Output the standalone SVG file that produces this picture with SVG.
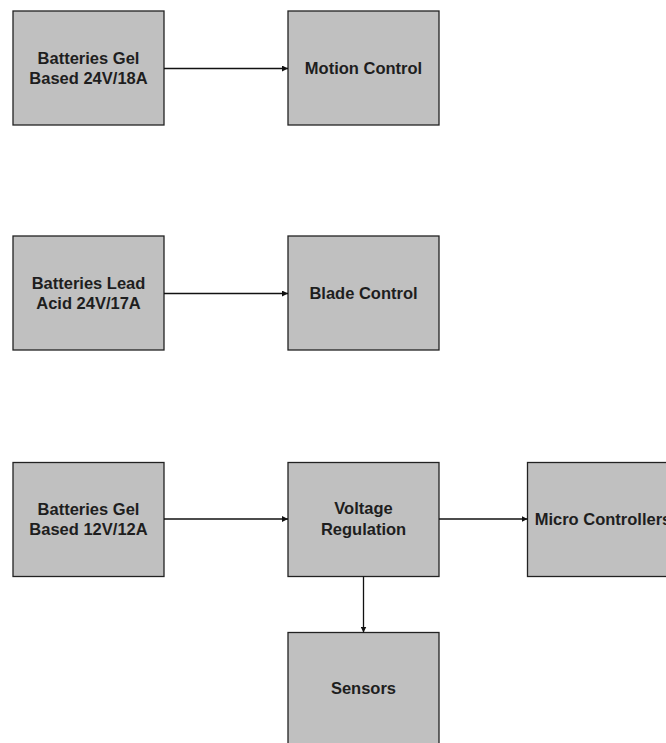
<svg xmlns="http://www.w3.org/2000/svg" width="666" height="743" viewBox="0 0 666 743">
  <style>
    .box { fill: #c0c0c0; stroke: #222; stroke-width: 1.3; }
    .lbl { font-family: "Liberation Sans", Arial, sans-serif; font-weight: bold; font-size: 16.5px; fill: #1e1e1e; text-anchor: middle; }
    .wire { fill: none; stroke: #111; stroke-width: 1.3; }
  </style>
  <defs>
    <marker id="arrow" viewBox="0 0 8 8" refX="8" refY="4" markerWidth="6" markerHeight="6" markerUnits="userSpaceOnUse" orient="auto">
      <path d="M0,0 L8,4 L0,8 z" fill="#111"/>
    </marker>
  </defs>

  <rect width="666" height="743" fill="#fff"/>

  <g id="batt-gel-24v">
    <rect class="box" x="13" y="11" width="151" height="114"/>
    <text class="lbl" x="88.5" y="64">Batteries Gel</text>
    <text class="lbl" x="88.5" y="83.5">Based 24V/18A</text>
  </g>
  <g id="motion-control">
    <rect class="box" x="288" y="11" width="151" height="114"/>
    <text class="lbl" x="363.5" y="74">Motion Control</text>
  </g>

  <g id="batt-lead-24v">
    <rect class="box" x="13" y="236" width="151" height="114"/>
    <text class="lbl" x="88.5" y="289">Batteries Lead</text>
    <text class="lbl" x="88.5" y="308.5">Acid 24V/17A</text>
  </g>
  <g id="blade-control">
    <rect class="box" x="288" y="236" width="151" height="114"/>
    <text class="lbl" x="363.5" y="299">Blade Control</text>
  </g>

  <g id="batt-gel-12v">
    <rect class="box" x="13" y="462.5" width="151" height="114"/>
    <text class="lbl" x="88.5" y="515">Batteries Gel</text>
    <text class="lbl" x="88.5" y="534.5">Based 12V/12A</text>
  </g>
  <g id="voltage-regulation">
    <rect class="box" x="288" y="462.5" width="151" height="114"/>
    <text class="lbl" x="363.5" y="514">Voltage</text>
    <text class="lbl" x="363.5" y="534.5">Regulation</text>
  </g>
  <g id="micro-controllers">
    <rect class="box" x="527.5" y="462.5" width="151" height="114"/>
    <text class="lbl" x="603" y="524.5">Micro Controllers</text>
  </g>
  <g id="sensors">
    <rect class="box" x="288" y="632.5" width="151" height="114"/>
    <text class="lbl" x="363.5" y="693.5">Sensors</text>
  </g>

  <g id="connectors">
    <line class="wire" x1="164" y1="68.5" x2="288" y2="68.5" marker-end="url(#arrow)"/>
    <line class="wire" x1="164" y1="293.5" x2="288" y2="293.5" marker-end="url(#arrow)"/>
    <line class="wire" x1="164" y1="519" x2="288" y2="519" marker-end="url(#arrow)"/>
    <line class="wire" x1="439" y1="519" x2="527.5" y2="519" marker-end="url(#arrow)"/>
    <line class="wire" x1="363.5" y1="576.5" x2="363.5" y2="632.5" marker-end="url(#arrow)"/>
  </g>
</svg>
